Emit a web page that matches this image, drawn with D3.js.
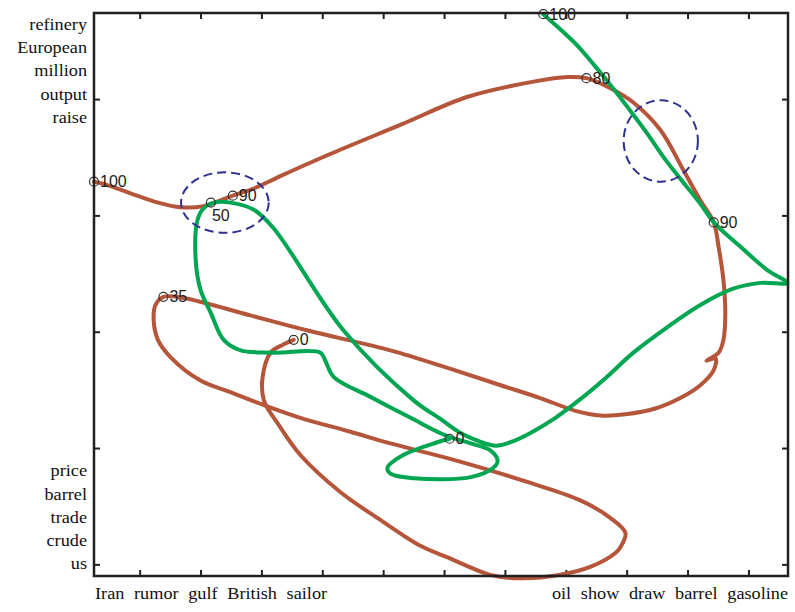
<!DOCTYPE html>
<html>
<head>
<meta charset="utf-8">
<script src="https://cdn.jsdelivr.net/npm/d3@7"></script>
<style>
  body { margin: 0; background: #fff; }
  svg { display: block; }
</style>
</head>
<body>
<div id="chart"></div>
<script>
// axis ticks (no numbers shown)
const xTicks = [1, 2, 3, 4, 5, 6, 7, 8, 9, 10, 11];
const yTicks = [1, 2, 3, 4, 5];

// word labels on the axes
const yWordsTop = [["refinery", 5.64], ["European", 5.44], ["million", 5.24], ["output", 5.04], ["raise", 4.84]];
const yWordsBottom = [["price", 1.8], ["barrel", 1.6], ["trade", 1.4], ["crude", 1.2], ["us", 1.0]];
const xWordsLeft = ["Iran", "rumor", "gulf", "British", "sailor"];
const xWordsRight = ["oil", "show", "draw", "barrel", "gasoline"];

// brown trajectory
const brownPath = [
  [0.25, 4.29], [0.47, 4.26], [0.85, 4.19], [1.30, 4.11], [1.67, 4.07], [2.05, 4.08],
  [2.53, 4.17], [2.87, 4.23], [3.32, 4.34], [4.14, 4.53], [5.29, 4.78], [6.39, 5.02],
  [7.47, 5.15], [8.03, 5.19], [8.34, 5.18], [8.78, 5.08], [9.11, 4.97],
  [9.56, 4.73], [9.93, 4.39], [10.21, 4.13], [10.43, 3.94], [10.51, 3.73], [10.59, 3.44],
  [10.62, 3.16], [10.59, 2.93], [10.51, 2.82], [10.31, 2.75], [10.46, 2.77], [10.43, 2.67],
  [10.21, 2.54], [9.88, 2.43], [9.47, 2.34], [8.98, 2.29], [8.57, 2.28], [8.16, 2.32],
  [7.58, 2.43], [6.93, 2.54], [6.11, 2.68], [5.12, 2.84], [3.76, 3.01], [2.82, 3.14],
  [1.72, 3.29], [1.39, 3.30], [1.26, 3.23], [1.23, 3.10], [1.30, 2.93], [1.51, 2.78],
  [2.00, 2.58], [2.49, 2.48], [3.04, 2.37], [3.64, 2.26], [4.46, 2.14], [5.12, 2.04],
  [6.22, 1.89], [7.42, 1.70], [8.24, 1.55], [8.73, 1.40], [8.98, 1.27], [8.90, 1.15],
  [8.82, 1.10], [8.41, 0.98], [7.91, 0.91], [7.26, 0.88], [6.76, 0.91], [6.06, 1.06],
  [5.61, 1.16], [4.96, 1.38], [4.30, 1.62], [3.64, 1.94], [3.27, 2.21], [3.04, 2.41],
  [3.02, 2.61], [3.15, 2.82], [3.36, 2.89], [3.53, 2.93]
];

// green trajectory
const greenPath = [
  [7.63, 5.73], [7.91, 5.60], [8.19, 5.46], [8.47, 5.29], [8.75, 5.11], [9.03, 4.92],
  [9.33, 4.71], [9.62, 4.49], [9.92, 4.29], [10.21, 4.10], [10.43, 3.94], [10.87, 3.73],
  [11.31, 3.53], [11.64, 3.42], [11.20, 3.42], [10.75, 3.37], [10.21, 3.23], [9.67, 3.04],
  [9.11, 2.82], [8.65, 2.60], [8.24, 2.42], [7.83, 2.26], [7.42, 2.13], [7.09, 2.05],
  [6.85, 2.02], [6.57, 2.06], [6.27, 2.13], [5.94, 2.25], [5.50, 2.41],
  [4.35, 3.01], [3.20, 3.89], [2.87, 4.05], [2.49, 4.11], [2.22, 4.11],
  [2.05, 4.06], [1.95, 3.96], [1.92, 3.62], [2.00, 3.36], [2.17, 3.16], [2.38, 2.93],
  [2.66, 2.84], [3.20, 2.82], [3.97, 2.82], [4.05, 2.75], [4.19, 2.61], [4.79, 2.44],
  [5.45, 2.26], [6.02, 2.11], [6.44, 2.04], [6.76, 1.98], [6.88, 1.89], [6.81, 1.83],
  [6.44, 1.75], [5.50, 1.74], [5.12, 1.78], [5.07, 1.83], [5.33, 1.94], [5.89, 2.05],
  [6.09, 2.08]
];

// progress markers: [x, y, label]
const brownMarkers = [[0.25, 4.29, "100"], [2.53, 4.17, "90"], [8.34, 5.18, "80"], [1.39, 3.30, "35"], [3.53, 2.93, "0"]];
const greenMarkers = [[7.63, 5.73, "100"], [10.43, 3.94, "90"], [2.17, 4.11, "50"], [6.09, 2.08, "0"]];

// highlighted regions: [cx, cy, rx, ry]
const ellipses = [[2.40, 4.11, 0.72, 0.26], [9.56, 4.64, 0.61, 0.35]];

const width = 795, height = 612;
const margin = { top: 13, right: 7, bottom: 36, left: 94 };

const x = d3.scaleLinear().domain([0.25, 11.65]).range([margin.left, width - margin.right]);
const y = d3.scaleLinear().domain([0.9, 5.74]).range([height - margin.bottom, margin.top]);

const svg = d3.select("#chart").append("svg")
  .attr("width", width)
  .attr("height", height);

const axisColor = "#231f20";
const serif = "'Liberation Serif', 'Times New Roman', serif";
const sans = "'Liberation Sans', Arial, sans-serif";

// ticks on all four sides, pointing inward
const tickLen = 6;
const axes = [
  [d3.axisBottom(x).tickValues(xTicks), `translate(0,${y.range()[0]})`],
  [d3.axisTop(x).tickValues(xTicks), `translate(0,${y.range()[1]})`],
  [d3.axisLeft(y).tickValues(yTicks), `translate(${x.range()[0]},0)`],
  [d3.axisRight(y).tickValues(yTicks), `translate(${x.range()[1]},0)`]
];
axes.forEach(([ax, tr]) => {
  const g = svg.append("g")
    .attr("transform", tr)
    .call(ax.tickSize(-tickLen).tickFormat(""));
  g.select(".domain").remove();
  g.selectAll("line").attr("stroke", axisColor).attr("stroke-width", 2);
});

// lines
const line = d3.line()
  .x(d => x(d[0]))
  .y(d => y(d[1]))
  .curve(d3.curveCatmullRom.alpha(0.5));

svg.append("path")
  .datum(brownPath)
  .attr("d", line)
  .attr("fill", "none")
  .attr("stroke", "#b5553a")
  .attr("stroke-width", 4)
  .attr("stroke-linejoin", "round")
  .attr("stroke-linecap", "round");

svg.append("path")
  .datum(greenPath)
  .attr("d", line)
  .attr("fill", "none")
  .attr("stroke", "#00a651")
  .attr("stroke-width", 4)
  .attr("stroke-linejoin", "round")
  .attr("stroke-linecap", "round");

// dashed ellipses
svg.selectAll(".hl")
  .data(ellipses)
  .join("ellipse")
    .attr("class", "hl")
    .attr("cx", d => x(d[0]))
    .attr("cy", d => y(d[1]))
    .attr("rx", d => x(d[0] + d[2]) - x(d[0]))
    .attr("ry", d => y(d[1] - d[3]) - y(d[1]))
    .attr("fill", "none")
    .attr("stroke", "#2e3192")
    .attr("stroke-width", 2)
    .attr("stroke-dasharray", "9,5");

// markers
const markers = brownMarkers.concat(greenMarkers);
const mg = svg.append("g");
mg.selectAll("circle")
  .data(markers)
  .join("circle")
    .attr("cx", d => x(d[0]))
    .attr("cy", d => y(d[1]))
    .attr("r", 4.5)
    .attr("fill", "none")
    .attr("stroke", "#333")
    .attr("stroke-width", 1.2);

// the "50" label sits under its marker, the rest to the right
mg.selectAll("text")
  .data(markers)
  .join("text")
    .attr("x", d => x(d[0]) + (d[2] === "50" ? 1 : 6))
    .attr("y", d => y(d[1]) + (d[2] === "50" ? 13 : 0))
    .attr("dominant-baseline", "central")
    .attr("font-family", sans)
    .attr("font-size", 16)
    .attr("fill", "#222")
    .text(d => d[2]);

// frame
svg.append("rect")
  .attr("x", x.range()[0])
  .attr("y", y.range()[1])
  .attr("width", x.range()[1] - x.range()[0])
  .attr("height", y.range()[0] - y.range()[1])
  .attr("fill", "none")
  .attr("stroke", axisColor)
  .attr("stroke-width", 2.5);

// word labels (serif, slightly widened like the source)
const stretch = 1.14;
const wordLabel = (txt, px, py, anchor) => svg.append("text")
  .attr("transform", `translate(${px},${py}) scale(${stretch},1)`)
  .attr("text-anchor", anchor)
  .attr("dominant-baseline", "central")
  .attr("font-family", serif)
  .attr("font-size", 16)
  .attr("fill", "#111")
  .attr("word-spacing", 4.5)
  .text(txt);

yWordsTop.concat(yWordsBottom).forEach(([w, v]) => wordLabel(w, x.range()[0] - 7, y(v), "end"));
wordLabel(xWordsLeft.join(" "), x.range()[0] + 1, y.range()[0] + 18, "start");
wordLabel(xWordsRight.join(" "), x.range()[1], y.range()[0] + 18, "end");
</script>
</body>
</html>
